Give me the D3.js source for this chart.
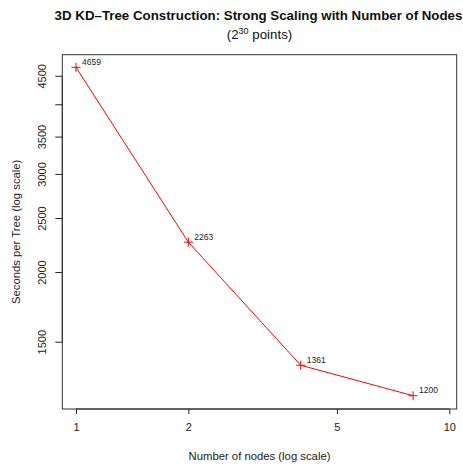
<!DOCTYPE html>
<html>
<head>
<meta charset="utf-8">
<script src="https://cdn.jsdelivr.net/npm/d3@7"></script>
<style>
  body { margin: 0; background: #fff; }
  svg { font-family: "Liberation Sans", Arial, Helvetica, sans-serif; }
</style>
</head>
<body>
<div id="chart"></div>
<script>
// data
let nodes = [1, 2, 4, 8];
let seconds = [4659, 2263, 1361, 1200];
let xTicks = [1, 2, 5, 10];
let yTicks = [1500, 2000, 2500, 3000, 3500, 4000, 4500];
let yTickLabels = ["1500", "2000", "2500", "3000", "3500", "", "4500"];

let width = 463, height = 465;
let box = { left: 62.3, right: 456.7, top: 54.7, bottom: 409 };

let svg = d3.select('#chart')
    .append('svg')
    .attr('width', width)
    .attr('height', height);

// scales (log, R style 4% padding)
let x = d3.scaleLog()
    .domain([0.919, 10.467])
    .range([box.left, box.right]);
let y = d3.scaleLog()
    .domain([1136, 4909])
    .range([box.bottom, box.top]);

// x axis
let xAxis = d3.axisBottom(x)
    .tickValues(xTicks)
    .tickFormat(d3.format('d'))
    .tickSize(5)
    .tickPadding(9);
let gx = svg.append('g')
    .attr('transform', `translate(0,${box.bottom})`)
    .call(xAxis);
gx.select('.domain')
    .attr('d', `M${x(xTicks[0])},0H${x(xTicks[xTicks.length - 1])}`)
    .attr('stroke', '#222');
gx.selectAll('.tick line').attr('stroke', '#222');
gx.selectAll('.tick text')
    .attr('font-size', 11)
    .attr('fill', '#222');

// y axis
let yAxis = d3.axisLeft(y)
    .tickValues(yTicks)
    .tickFormat((d, i) => yTickLabels[i])
    .tickSize(7);
let gy = svg.append('g')
    .attr('transform', `translate(${box.left},0)`)
    .call(yAxis);
gy.select('.domain')
    .attr('d', `M0,${y(yTicks[0])}V${y(yTicks[yTicks.length - 1])}`)
    .attr('stroke', '#222');
gy.selectAll('.tick line').attr('stroke', '#222');
gy.selectAll('.tick text')
    .attr('font-size', 11)
    .attr('fill', '#222')
    .attr('text-anchor', 'middle')
    .attr('dy', 0)
    .attr('x', 0)
    .attr('transform', 'translate(-20,0) rotate(-90)')
    .attr('dominant-baseline', 'central');

// plot box
svg.append('rect')
    .attr('x', box.left)
    .attr('y', box.top)
    .attr('width', box.right - box.left)
    .attr('height', box.bottom - box.top)
    .attr('fill', 'none')
    .attr('stroke', '#333')
    .attr('stroke-width', 1);

// series
let pts = nodes.map((n, i) => ({ n: n, s: seconds[i] }));
let line = d3.line()
    .x(d => x(d.n))
    .y(d => y(d.s));
svg.append('path')
    .datum(pts)
    .attr('d', line)
    .attr('fill', 'none')
    .attr('stroke', '#ff0000')
    .attr('stroke-width', 1);

let marks = svg.selectAll('.pt')
    .data(pts)
    .enter()
    .append('path')
    .attr('class', 'pt')
    .attr('d', d => {
        let cx = x(d.n), cy = y(d.s), r = 4.5;
        return `M${cx - r},${cy}H${cx + r}M${cx},${cy - r}V${cy + r}`;
    })
    .attr('stroke', '#ff0000')
    .attr('stroke-width', 1);

svg.selectAll('.lbl')
    .data(pts)
    .enter()
    .append('text')
    .attr('class', 'lbl')
    .attr('x', d => x(d.n) + 6)
    .attr('y', d => y(d.s) - 2.5)
    .attr('font-size', 8.5)
    .attr('fill', '#222')
    .text(d => d.s);

// titles
let cx = (box.left + box.right) / 2;
svg.append('text')
    .attr('x', cx - 1)
    .attr('y', 19.5)
    .attr('text-anchor', 'middle')
    .attr('font-size', 13.3)
    .attr('font-weight', 'bold')
    .attr('fill', '#111')
    .text('3D KD\u2013Tree Construction: Strong Scaling with Number of Nodes');

let sub = svg.append('text')
    .attr('x', cx)
    .attr('y', 39)
    .attr('text-anchor', 'middle')
    .attr('font-size', 13.3)
    .attr('fill', '#111');
sub.append('tspan').text('(2');
sub.append('tspan').attr('font-size', 9).attr('dy', -5.5).text('30');
sub.append('tspan').attr('dy', 5.5).text(' points)');

svg.append('text')
    .attr('x', cx)
    .attr('y', 460)
    .attr('text-anchor', 'middle')
    .attr('font-size', 11.3)
    .attr('fill', '#222')
    .text('Number of nodes (log scale)');

svg.append('text')
    .attr('transform', `translate(20,${(box.top + box.bottom) / 2}) rotate(-90)`)
    .attr('text-anchor', 'middle')
    .attr('font-size', 11.3)
    .attr('fill', '#222')
    .text('Seconds per Tree (log scale)');
</script>
</body>
</html>
